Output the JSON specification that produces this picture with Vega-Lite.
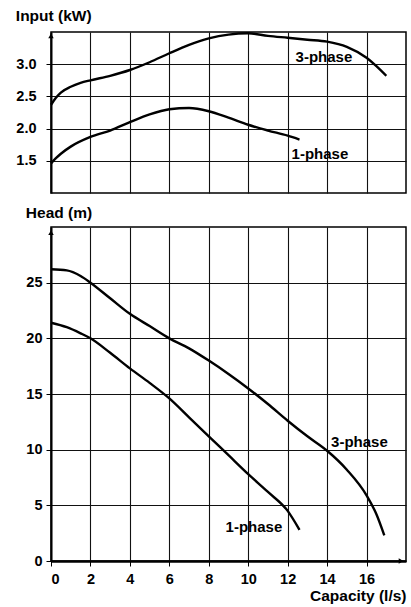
{
  "$schema": "https://vega.github.io/schema/vega-lite/v6.json",
  "padding": {"left": 15, "top": 8, "right": 3, "bottom": 1},
  "spacing": 10,
  "background": "white",
  "config": {
    "font": "Liberation Sans",
    "view": {"stroke": "black", "strokeWidth": 1.5},
    "axis": {
      "gridColor": "#111",
      "gridWidth": 1.1,
      "gridOpacity": 1,
      "domainColor": "black",
      "tickColor": "black",
      "labelColor": "black",
      "labelFont": "Liberation Sans",
      "labelFontWeight": "bold",
      "labelFontSize": 14.5,
      "titleFont": "Liberation Sans",
      "titleColor": "black",
      "tickCount": 30,
      "labelOverlap": false
    },
    "title": {"font": "Liberation Sans", "fontSize": 15.5, "fontWeight": "bold", "color": "black", "anchor": "start"}
  },
  "datasets": {
    "input": [
      {"series": "3-phase", "x": 0, "y": 2.37},
      {"series": "3-phase", "x": 0.25, "y": 2.48},
      {"series": "3-phase", "x": 0.5, "y": 2.56},
      {"series": "3-phase", "x": 1, "y": 2.65},
      {"series": "3-phase", "x": 1.5, "y": 2.71},
      {"series": "3-phase", "x": 2, "y": 2.75},
      {"series": "3-phase", "x": 3, "y": 2.82},
      {"series": "3-phase", "x": 4, "y": 2.91},
      {"series": "3-phase", "x": 5, "y": 3.03},
      {"series": "3-phase", "x": 6, "y": 3.17},
      {"series": "3-phase", "x": 7, "y": 3.3},
      {"series": "3-phase", "x": 8, "y": 3.4},
      {"series": "3-phase", "x": 9, "y": 3.46},
      {"series": "3-phase", "x": 10, "y": 3.48},
      {"series": "3-phase", "x": 11, "y": 3.44},
      {"series": "3-phase", "x": 12, "y": 3.41},
      {"series": "3-phase", "x": 13, "y": 3.38},
      {"series": "3-phase", "x": 14, "y": 3.35},
      {"series": "3-phase", "x": 15, "y": 3.27},
      {"series": "3-phase", "x": 16, "y": 3.1},
      {"series": "3-phase", "x": 16.5, "y": 2.97},
      {"series": "3-phase", "x": 17, "y": 2.82},
      {"series": "1-phase", "x": 0, "y": 1.46},
      {"series": "1-phase", "x": 0.25, "y": 1.54},
      {"series": "1-phase", "x": 0.5, "y": 1.61},
      {"series": "1-phase", "x": 1, "y": 1.72},
      {"series": "1-phase", "x": 2, "y": 1.87},
      {"series": "1-phase", "x": 3, "y": 1.97},
      {"series": "1-phase", "x": 4, "y": 2.1},
      {"series": "1-phase", "x": 5, "y": 2.22},
      {"series": "1-phase", "x": 6, "y": 2.3},
      {"series": "1-phase", "x": 7, "y": 2.32},
      {"series": "1-phase", "x": 8, "y": 2.27},
      {"series": "1-phase", "x": 9, "y": 2.17},
      {"series": "1-phase", "x": 10, "y": 2.06},
      {"series": "1-phase", "x": 11, "y": 1.97},
      {"series": "1-phase", "x": 12, "y": 1.89},
      {"series": "1-phase", "x": 12.6, "y": 1.83}
    ],
    "head": [
      {"series": "3-phase", "x": 0, "y": 26.2},
      {"series": "3-phase", "x": 0.8, "y": 26.1},
      {"series": "3-phase", "x": 1.5, "y": 25.6},
      {"series": "3-phase", "x": 2, "y": 25},
      {"series": "3-phase", "x": 3, "y": 23.6},
      {"series": "3-phase", "x": 4, "y": 22.2},
      {"series": "3-phase", "x": 5, "y": 21.1},
      {"series": "3-phase", "x": 6, "y": 20},
      {"series": "3-phase", "x": 7, "y": 19.1},
      {"series": "3-phase", "x": 8, "y": 18},
      {"series": "3-phase", "x": 9, "y": 16.8},
      {"series": "3-phase", "x": 10, "y": 15.5},
      {"series": "3-phase", "x": 11, "y": 14.1},
      {"series": "3-phase", "x": 12, "y": 12.6},
      {"series": "3-phase", "x": 13, "y": 11.2},
      {"series": "3-phase", "x": 14, "y": 9.9},
      {"series": "3-phase", "x": 15, "y": 8.2},
      {"series": "3-phase", "x": 16, "y": 5.9},
      {"series": "3-phase", "x": 16.5, "y": 4.2},
      {"series": "3-phase", "x": 16.9, "y": 2.3},
      {"series": "1-phase", "x": 0, "y": 21.4},
      {"series": "1-phase", "x": 0.8, "y": 21},
      {"series": "1-phase", "x": 1.5, "y": 20.45},
      {"series": "1-phase", "x": 2, "y": 20},
      {"series": "1-phase", "x": 3, "y": 18.7},
      {"series": "1-phase", "x": 4, "y": 17.3},
      {"series": "1-phase", "x": 5, "y": 16},
      {"series": "1-phase", "x": 6, "y": 14.6},
      {"series": "1-phase", "x": 7, "y": 12.9},
      {"series": "1-phase", "x": 8, "y": 11.2},
      {"series": "1-phase", "x": 9, "y": 9.5},
      {"series": "1-phase", "x": 10, "y": 7.8},
      {"series": "1-phase", "x": 11, "y": 6.2},
      {"series": "1-phase", "x": 12, "y": 4.5},
      {"series": "1-phase", "x": 12.6, "y": 2.8}
    ],
    "inputLabels": [
      {"label": "3-phase", "x": 12.4, "y": 3.11},
      {"label": "1-phase", "x": 12.2, "y": 1.61}
    ],
    "headLabels": [
      {"label": "3-phase", "x": 14.2, "y": 10.7},
      {"label": "1-phase", "x": 8.85, "y": 3.08}
    ],
    "inputArrows": [
      {"x": 0, "y": 3.44, "shape": "triangle-up"}
    ],
    "headArrows": [
      {"x": 0, "y": 29.5, "shape": "triangle-up"},
      {"x": 17.75, "y": 0, "shape": "triangle-right"}
    ]
  },
  "vconcat": [
    {
      "width": 355,
      "height": 161,
      "title": {"text": "Input (kW)", "offset": 4},
      "layer": [
        {
          "data": {"name": "input"},
          "mark": {"type": "line", "color": "black", "strokeWidth": 2.4, "interpolate": "monotone"},
          "encoding": {
            "x": {"field": "x", "type": "quantitative", "scale": {"domain": [0, 18], "nice": false},
              "axis": {"values": [2, 4, 6, 8, 10, 12, 14, 16], "labels": false, "ticks": false, "domain": false, "title": null, "grid": true}},
            "y": {"field": "y", "type": "quantitative", "scale": {"domain": [1, 3.5], "nice": false, "zero": false},
              "axis": {"values": [1.5, 2, 2.5, 3], "format": ".1f", "title": null, "tickSize": 5, "labelPadding": 10, "domainWidth": 2, "grid": true}},
            "detail": {"field": "series"}
          }
        },
        {
          "data": {"name": "inputLabels"},
          "mark": {"type": "text", "align": "left", "baseline": "middle", "fontSize": 15, "fontWeight": "bold", "color": "black", "font": "Liberation Sans"},
          "encoding": {
            "x": {"field": "x", "type": "quantitative"},
            "y": {"field": "y", "type": "quantitative"},
            "text": {"field": "label"}
          }
        },
        {
          "data": {"name": "inputArrows"},
          "mark": {"type": "point", "filled": true, "color": "black", "size": 30, "opacity": 1},
          "encoding": {
            "x": {"field": "x", "type": "quantitative"},
            "y": {"field": "y", "type": "quantitative"},
            "shape": {"field": "shape", "type": "nominal", "scale": null, "legend": null}
          }
        }
      ]
    },
    {
      "width": 355,
      "height": 334,
      "title": {"text": "Head (m)", "offset": 6},
      "layer": [
        {
          "data": {"name": "head"},
          "mark": {"type": "line", "color": "black", "strokeWidth": 2.4, "interpolate": "monotone"},
          "encoding": {
            "x": {"field": "x", "type": "quantitative", "scale": {"domain": [0, 18], "nice": false},
              "axis": {"values": [0, 2, 4, 6, 8, 10, 12, 14, 16], "format": "d", "title": "Capacity (l/s)", "titleAnchor": "end", "titleFontSize": 15.5, "titleFontWeight": "bold", "titlePadding": 3, "tickSize": 5, "labelPadding": 6, "domainWidth": 2.5, "grid": true}},
            "y": {"field": "y", "type": "quantitative", "scale": {"domain": [0, 30], "nice": false},
              "axis": {"values": [0, 5, 10, 15, 20, 25], "format": "d", "title": null, "tickSize": 5, "labelPadding": 4, "domainWidth": 2, "grid": true}},
            "detail": {"field": "series"}
          }
        },
        {
          "data": {"name": "headLabels"},
          "mark": {"type": "text", "align": "left", "baseline": "middle", "fontSize": 15, "fontWeight": "bold", "color": "black", "font": "Liberation Sans"},
          "encoding": {
            "x": {"field": "x", "type": "quantitative"},
            "y": {"field": "y", "type": "quantitative"},
            "text": {"field": "label"}
          }
        },
        {
          "data": {"name": "headArrows"},
          "mark": {"type": "point", "filled": true, "color": "black", "size": 30, "opacity": 1},
          "encoding": {
            "x": {"field": "x", "type": "quantitative"},
            "y": {"field": "y", "type": "quantitative"},
            "shape": {"field": "shape", "type": "nominal", "scale": null, "legend": null}
          }
        }
      ]
    }
  ]
}
